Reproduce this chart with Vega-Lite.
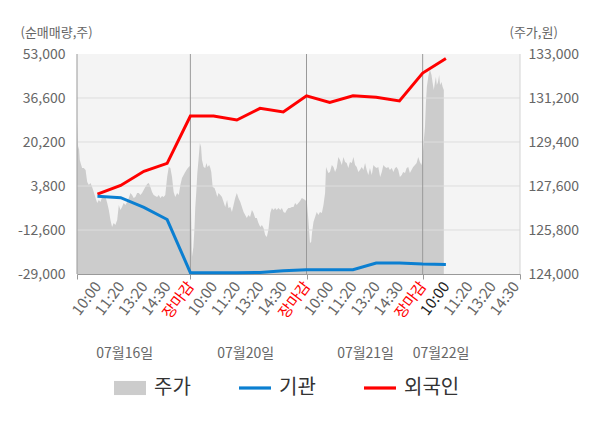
{
  "$schema": "https://vega.github.io/schema/vega-lite/v6.json",
  "width": 443,
  "height": 220,
  "autosize": {"type": "none"},
  "padding": {"left": 77, "top": 54, "right": 80, "bottom": 154},
  "config": {
    "view": {"stroke": null, "fill": "#f4f4f4"},
    "font": "Noto Sans CJK KR",
    "axis": {"labelFont": "Noto Sans CJK KR", "titleFont": "Noto Sans CJK KR", "labelFontSize": 13, "labelColor": "#666666", "titleFontSize": 13, "titleColor": "#666666", "titleFontWeight": "normal"},
    "legend": {"labelFont": "Noto Sans CJK KR"}
  },
  "datasets": {
    "price": [
      {"t": 0.12, "price": 130220}, {"t": 0.16, "price": 129070}, {"t": 0.2, "price": 129240}, {"t": 0.24, "price": 128660},
      {"t": 0.3, "price": 128460}, {"t": 0.34, "price": 128340}, {"t": 0.41, "price": 128340}, {"t": 0.49, "price": 128250},
      {"t": 0.53, "price": 127970}, {"t": 0.56, "price": 127760}, {"t": 0.63, "price": 127640}, {"t": 0.7, "price": 127720},
      {"t": 0.77, "price": 127560}, {"t": 0.84, "price": 127350}, {"t": 0.92, "price": 127110}, {"t": 0.99, "price": 126900},
      {"t": 1.06, "price": 127030}, {"t": 1.13, "price": 126950}, {"t": 1.2, "price": 127150}, {"t": 1.27, "price": 127110},
      {"t": 1.35, "price": 127150}, {"t": 1.42, "price": 126900}, {"t": 1.49, "price": 126620}, {"t": 1.56, "price": 126210},
      {"t": 1.63, "price": 125920}, {"t": 1.7, "price": 126090}, {"t": 1.77, "price": 126000}, {"t": 1.85, "price": 126210},
      {"t": 1.92, "price": 126820}, {"t": 1.99, "price": 126620}, {"t": 2.06, "price": 126740}, {"t": 2.13, "price": 126900},
      {"t": 2.2, "price": 126820}, {"t": 2.28, "price": 126950}, {"t": 2.35, "price": 127110}, {"t": 2.42, "price": 127310},
      {"t": 2.49, "price": 127230}, {"t": 2.56, "price": 127110}, {"t": 2.63, "price": 127150}, {"t": 2.71, "price": 127310},
      {"t": 2.78, "price": 127310}, {"t": 2.85, "price": 127230}, {"t": 2.92, "price": 127310}, {"t": 2.99, "price": 127440},
      {"t": 3.06, "price": 127560}, {"t": 3.14, "price": 127680}, {"t": 3.21, "price": 127720}, {"t": 3.28, "price": 127560},
      {"t": 3.35, "price": 127350}, {"t": 3.42, "price": 127230}, {"t": 3.49, "price": 127190}, {"t": 3.57, "price": 127150},
      {"t": 3.64, "price": 127230}, {"t": 3.71, "price": 127110}, {"t": 3.78, "price": 127190}, {"t": 3.85, "price": 127150},
      {"t": 3.92, "price": 127230}, {"t": 4.0, "price": 127970}, {"t": 4.07, "price": 128380}, {"t": 4.14, "price": 128340},
      {"t": 4.21, "price": 127970}, {"t": 4.28, "price": 127350}, {"t": 4.35, "price": 127150}, {"t": 4.43, "price": 127310},
      {"t": 4.5, "price": 127230}, {"t": 4.57, "price": 127640}, {"t": 4.64, "price": 127930}, {"t": 4.71, "price": 128050},
      {"t": 4.78, "price": 128170}, {"t": 4.86, "price": 128300}, {"t": 4.93, "price": 128380}, {"t": 4.98, "price": 128420},
      {"t": 5.03, "price": 126620}, {"t": 5.07, "price": 124700}, {"t": 5.13, "price": 125100}, {"t": 5.18, "price": 125920},
      {"t": 5.21, "price": 126700}, {"t": 5.26, "price": 127440}, {"t": 5.3, "price": 128130}, {"t": 5.35, "price": 128660},
      {"t": 5.41, "price": 129360}, {"t": 5.46, "price": 129200}, {"t": 5.5, "price": 128660}, {"t": 5.57, "price": 128380},
      {"t": 5.64, "price": 128340}, {"t": 5.69, "price": 128540}, {"t": 5.74, "price": 128380}, {"t": 5.81, "price": 128460},
      {"t": 5.86, "price": 128340}, {"t": 5.9, "price": 128170}, {"t": 5.96, "price": 127560}, {"t": 6.04, "price": 127520},
      {"t": 6.1, "price": 127350}, {"t": 6.16, "price": 127150}, {"t": 6.21, "price": 127310}, {"t": 6.29, "price": 127230},
      {"t": 6.36, "price": 127150}, {"t": 6.43, "price": 126950}, {"t": 6.5, "price": 126740}, {"t": 6.58, "price": 127030},
      {"t": 6.64, "price": 126700}, {"t": 6.72, "price": 126740}, {"t": 6.79, "price": 126540}, {"t": 6.86, "price": 126820},
      {"t": 6.93, "price": 127110}, {"t": 7.0, "price": 127310}, {"t": 7.07, "price": 127110}, {"t": 7.15, "price": 126950},
      {"t": 7.22, "price": 126740}, {"t": 7.29, "price": 126540}, {"t": 7.36, "price": 126410}, {"t": 7.43, "price": 126290},
      {"t": 7.5, "price": 126410}, {"t": 7.57, "price": 126330}, {"t": 7.65, "price": 126620}, {"t": 7.72, "price": 126500},
      {"t": 7.79, "price": 126290}, {"t": 7.86, "price": 126290}, {"t": 7.93, "price": 126090}, {"t": 8.01, "price": 125920},
      {"t": 8.08, "price": 126000}, {"t": 8.15, "price": 125880}, {"t": 8.22, "price": 125600}, {"t": 8.29, "price": 125510},
      {"t": 8.36, "price": 125800}, {"t": 8.44, "price": 126500}, {"t": 8.51, "price": 126700}, {"t": 8.58, "price": 126620},
      {"t": 8.65, "price": 126700}, {"t": 8.72, "price": 126620}, {"t": 8.79, "price": 126700}, {"t": 8.87, "price": 126620},
      {"t": 8.94, "price": 126700}, {"t": 9.01, "price": 126540}, {"t": 9.08, "price": 126500}, {"t": 9.15, "price": 126620},
      {"t": 9.22, "price": 126700}, {"t": 9.29, "price": 126700}, {"t": 9.37, "price": 126740}, {"t": 9.44, "price": 126740},
      {"t": 9.51, "price": 126900}, {"t": 9.58, "price": 126820}, {"t": 9.65, "price": 126900}, {"t": 9.72, "price": 126990},
      {"t": 9.8, "price": 127110}, {"t": 9.87, "price": 127070}, {"t": 9.94, "price": 127030}, {"t": 9.98, "price": 126990},
      {"t": 10.02, "price": 126900}, {"t": 10.08, "price": 126210}, {"t": 10.15, "price": 125270}, {"t": 10.2, "price": 125310},
      {"t": 10.24, "price": 125720}, {"t": 10.3, "price": 126130}, {"t": 10.37, "price": 126330}, {"t": 10.44, "price": 126540},
      {"t": 10.51, "price": 126410}, {"t": 10.58, "price": 126540}, {"t": 10.66, "price": 126500}, {"t": 10.73, "price": 126820},
      {"t": 10.8, "price": 127310}, {"t": 10.84, "price": 128380}, {"t": 10.94, "price": 128130}, {"t": 11.01, "price": 128170},
      {"t": 11.09, "price": 128460}, {"t": 11.16, "price": 128380}, {"t": 11.23, "price": 128170}, {"t": 11.3, "price": 128340},
      {"t": 11.37, "price": 128790}, {"t": 11.44, "price": 128660}, {"t": 11.52, "price": 128460}, {"t": 11.59, "price": 128790},
      {"t": 11.66, "price": 128580}, {"t": 11.73, "price": 128540}, {"t": 11.8, "price": 128340}, {"t": 11.87, "price": 128580},
      {"t": 11.95, "price": 128540}, {"t": 12.02, "price": 128790}, {"t": 12.09, "price": 128460}, {"t": 12.16, "price": 128380},
      {"t": 12.23, "price": 128170}, {"t": 12.3, "price": 128250}, {"t": 12.38, "price": 128380}, {"t": 12.45, "price": 128250},
      {"t": 12.52, "price": 128540}, {"t": 12.59, "price": 128250}, {"t": 12.66, "price": 128050}, {"t": 12.73, "price": 128340},
      {"t": 12.81, "price": 128050}, {"t": 12.88, "price": 128460}, {"t": 12.95, "price": 128380}, {"t": 13.02, "price": 128340},
      {"t": 13.09, "price": 128380}, {"t": 13.17, "price": 127970}, {"t": 13.24, "price": 128170}, {"t": 13.31, "price": 128460},
      {"t": 13.38, "price": 128380}, {"t": 13.45, "price": 128340}, {"t": 13.52, "price": 128380}, {"t": 13.59, "price": 128250},
      {"t": 13.67, "price": 128340}, {"t": 13.74, "price": 128170}, {"t": 13.81, "price": 128340}, {"t": 13.88, "price": 128380},
      {"t": 13.95, "price": 128250}, {"t": 14.02, "price": 127970}, {"t": 14.1, "price": 128050}, {"t": 14.16, "price": 128170},
      {"t": 14.24, "price": 128130}, {"t": 14.31, "price": 128340}, {"t": 14.38, "price": 128380}, {"t": 14.45, "price": 128130},
      {"t": 14.52, "price": 128250}, {"t": 14.59, "price": 128380}, {"t": 14.67, "price": 128460}, {"t": 14.74, "price": 128540},
      {"t": 14.81, "price": 128790}, {"t": 14.88, "price": 128580}, {"t": 14.95, "price": 128460}, {"t": 14.99, "price": 128660},
      {"t": 15.05, "price": 129480}, {"t": 15.1, "price": 130010}, {"t": 15.14, "price": 131000}, {"t": 15.18, "price": 131650},
      {"t": 15.24, "price": 132060}, {"t": 15.28, "price": 132260}, {"t": 15.32, "price": 132350}, {"t": 15.38, "price": 132140},
      {"t": 15.43, "price": 131810}, {"t": 15.48, "price": 131530}, {"t": 15.53, "price": 131850}, {"t": 15.57, "price": 132060},
      {"t": 15.61, "price": 131730}, {"t": 15.66, "price": 131850}, {"t": 15.71, "price": 132140}, {"t": 15.75, "price": 131730},
      {"t": 15.81, "price": 131850}, {"t": 15.86, "price": 131650}, {"t": 15.91, "price": 131530}
    ],
    "flow": [
      {"t": 1, "net": 800, "series": "외국인"}, {"t": 2, "net": 4000, "series": "외국인"},
      {"t": 3, "net": 9300, "series": "외국인"}, {"t": 4, "net": 12260, "series": "외국인"},
      {"t": 5, "net": 29900, "series": "외국인"}, {"t": 6, "net": 29900, "series": "외국인"},
      {"t": 7, "net": 28400, "series": "외국인"}, {"t": 8, "net": 32760, "series": "외국인"},
      {"t": 9, "net": 31400, "series": "외국인"}, {"t": 10, "net": 37400, "series": "외국인"},
      {"t": 11, "net": 34900, "series": "외국인"}, {"t": 12, "net": 37400, "series": "외국인"},
      {"t": 13, "net": 36900, "series": "외국인"}, {"t": 14, "net": 35500, "series": "외국인"},
      {"t": 15, "net": 45900, "series": "외국인"}, {"t": 16, "net": 51300, "series": "외국인"},
      {"t": 1, "net": 0, "series": "기관"}, {"t": 2, "net": -560, "series": "기관"},
      {"t": 3, "net": -4200, "series": "기관"}, {"t": 4, "net": -8700, "series": "기관"},
      {"t": 5, "net": -28500, "series": "기관"}, {"t": 6, "net": -28500, "series": "기관"},
      {"t": 7, "net": -28500, "series": "기관"}, {"t": 8, "net": -28400, "series": "기관"},
      {"t": 9, "net": -27800, "series": "기관"}, {"t": 10, "net": -27400, "series": "기관"},
      {"t": 11, "net": -27400, "series": "기관"}, {"t": 12, "net": -27400, "series": "기관"},
      {"t": 13, "net": -24900, "series": "기관"}, {"t": 14, "net": -24900, "series": "기관"},
      {"t": 15, "net": -25300, "series": "기관"}, {"t": 16, "net": -25500, "series": "기관"}
    ],
    "grid": [{"net": 36600}, {"net": 20200}, {"net": 3800}, {"net": -12600}],
    "bounds": [{"t": 0.12}, {"t": 5}, {"t": 10}, {"t": 15}, {"t": 19.19}]
  },
  "layer": [
    {
      "data": {"name": "price"},
      "mark": {"type": "area", "interpolate": "linear"},
      "encoding": {
        "x": {
          "field": "t", "type": "quantitative",
          "scale": {"domain": [0.12, 19.19], "nice": false, "zero": false},
          "axis": {
            "orient": "bottom", "values": [2.15, 7.36, 12.52, 15.77],
            "labelExpr": "datum.value < 3 ? '07월16일' : datum.value < 8 ? '07월20일' : datum.value < 13 ? '07월21일' : '07월22일'",
            "labelAngle": 0, "labelAlign": "center", "labelBaseline": "middle", "labelPadding": 79, "labelFontSize": 14,
            "ticks": false, "tickSize": 0, "domain": false, "grid": false,
            "labelFlush": false, "labelOverlap": false, "title": null
          }
        },
        "y": {
          "field": "price", "type": "quantitative",
          "scale": {"domain": [124000, 133000], "nice": false, "zero": false},
          "axis": {
            "orient": "right", "values": [124000, 125800, 127600, 129400, 131200, 133000],
            "labelExpr": "format(datum.value, ',d')", "labelFontSize": 14,
            "ticks": false, "tickSize": 0, "domain": false, "grid": false, "labelPadding": 8,
            "title": "(주가,원)", "titleAngle": 0, "titleAlign": "left", "titleBaseline": "middle", "titleX": -11, "titleY": -22
          }
        },
        "y2": {"datum": 124000},
        "color": {
          "datum": "주가", "type": "nominal",
          "scale": {"domain": ["주가", "기관", "외국인"], "range": ["#cccccc", "#0b7fd1", "#ff0000"]},
          "legend": {
            "orient": "none", "legendX": 37, "legendY": 318, "direction": "horizontal", "title": null,
            "symbolSize": 1024, "labelFontSize": 20, "labelColor": "#333333",
            "labelOffset": 8, "columnPadding": 48, "padding": 0,
            "encode": {"symbols": {"update": {
              "shape": {"signal": "datum.value === '주가' ? 'M-1,-0.44H1V0.44H-1Z' : 'M-1,-0.1H1V0.1H-1Z'"},
              "fill": {"signal": "datum.value === '주가' ? '#cccccc' : datum.value === '기관' ? '#0b7fd1' : '#ff0000'"},
              "stroke": {"value": "transparent"},
              "strokeWidth": {"value": 0},
              "opacity": {"value": 1}
            }}}
          }
        }
      }
    },
    {
      "data": {"name": "grid"},
      "mark": {"type": "rule", "color": "#dddddd", "strokeWidth": 1},
      "encoding": {
        "y": {"field": "net", "type": "quantitative", "scale": {"domain": [-29000, 53000], "nice": false, "zero": false}, "axis": null}
      }
    },
    {
      "data": {"name": "bounds"},
      "mark": {"type": "rule", "strokeWidth": 1},
      "encoding": {
        "x": {
          "field": "t", "type": "quantitative",
          "scale": {"domain": [0.12, 19.19], "nice": false, "zero": false},
          "axis": {
            "orient": "bottom", "values": [0.12, 5, 10, 15, 19.19], "labels": false,
            "ticks": true, "tickSize": 5, "tickColor": "#999999", "domain": false, "grid": false, "title": null
          }
        },
        "color": {"condition": {"test": "datum.t > 19", "value": "#d4d4d4"}, "value": "#999999"}
      }
    },
    {
      "layer": [
        {
          "mark": {"type": "rule", "color": "#888888", "strokeWidth": 1},
          "encoding": {"y": {"datum": 0, "type": "quantitative"}}
        },
        {
          "data": {"name": "flow"},
          "mark": {"type": "line", "strokeWidth": 3},
          "encoding": {
            "x": {"field": "t", "type": "quantitative"},
            "color": {
              "field": "series", "type": "nominal",
              "scale": {"domain": ["주가", "기관", "외국인"], "range": ["#cccccc", "#0b7fd1", "#ff0000"]},
              "legend": null
            }
          }
        }
      ],
      "encoding": {
        "x": {
          "field": "t", "type": "quantitative",
          "scale": {"domain": [0.12, 19.19], "nice": false, "zero": false},
          "axis": {
            "orient": "bottom", "values": [1, 2, 3, 4, 5, 6, 7, 8, 9, 10, 11, 12, 13, 14, 15, 16, 17, 18, 19],
            "labelExpr": "['10:00','11:20','13:20','14:30','장마감'][(datum.value - 1) % 5]",
            "labelAngle": -53, "labelAlign": "right", "labelBaseline": "middle", "labelPadding": 9, "labelFontSize": 15,
            "labelFlush": false, "labelOverlap": false, "labelBound": false,
            "labelColor": {"condition": [
              {"test": "datum.value % 5 === 0", "value": "#ff0000"},
              {"test": "datum.value === 16", "value": "#222222"}
            ], "value": "#666666"},
            "ticks": false, "tickSize": 0, "grid": false, "domain": true, "domainColor": "#999999", "title": null
          }
        },
        "y": {
          "field": "net", "type": "quantitative",
          "scale": {"domain": [-29000, 53000], "nice": false, "zero": false},
          "axis": {
            "orient": "left", "values": [-29000, -12600, 3800, 20200, 36600, 53000],
            "labelExpr": "datum.value < 0 ? '-' + format(-datum.value, ',d') : format(datum.value, ',d')", "labelFontSize": 14,
            "ticks": false, "tickSize": 0, "domain": false, "grid": false, "labelPadding": 12,
            "title": "(순매매량,주)", "titleAngle": 0, "titleAlign": "left", "titleBaseline": "middle", "titleX": -57, "titleY": -22
          }
        }
      }
    }
  ],
  "resolve": {
    "scale": {"x": "independent", "y": "independent"},
    "axis": {"x": "independent", "y": "independent"}
  }
}
